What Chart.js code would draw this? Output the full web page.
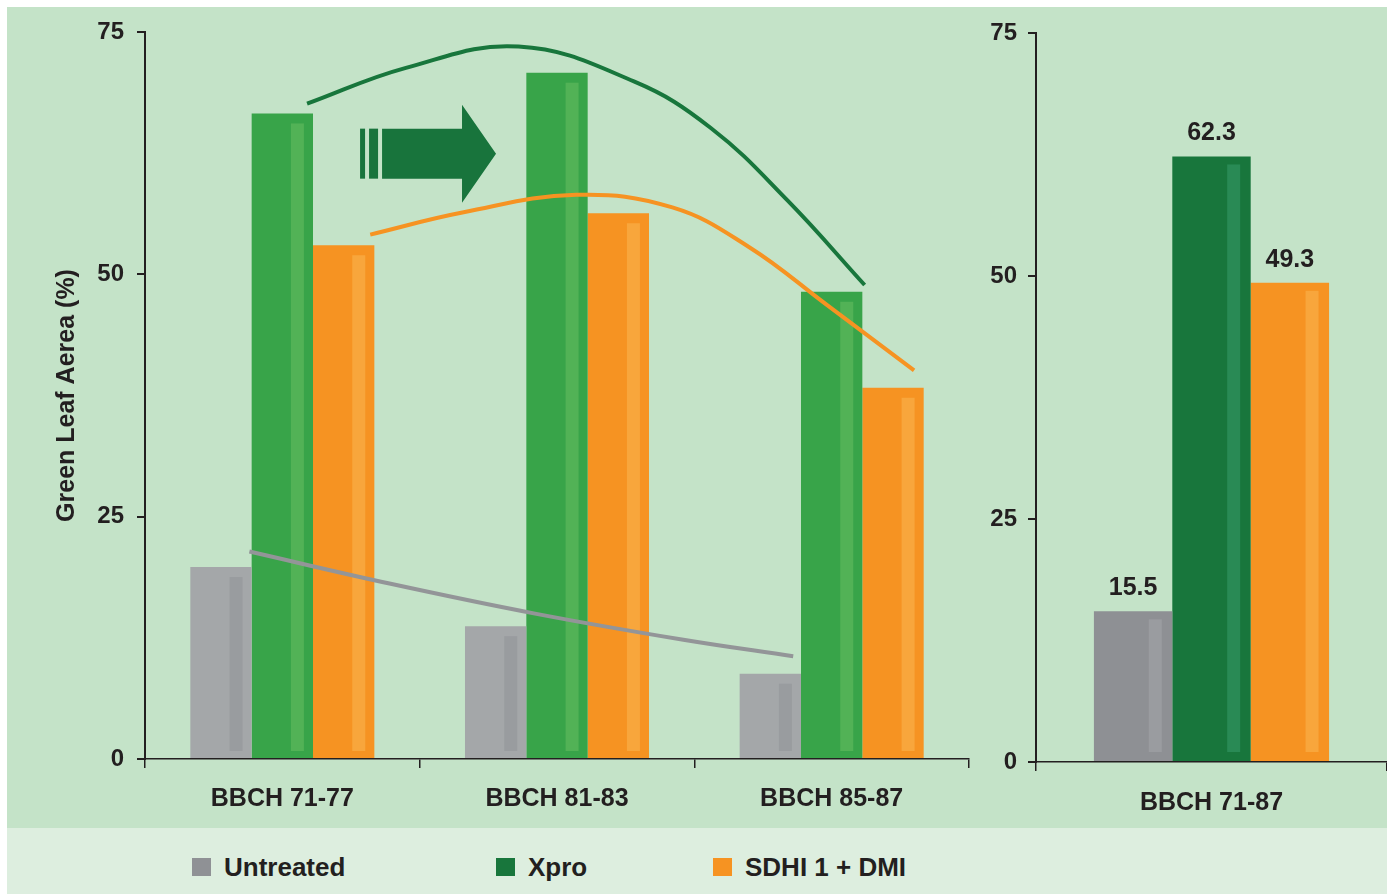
<!DOCTYPE html>
<html>
<head>
<meta charset="utf-8">
<script src="https://cdn.jsdelivr.net/npm/chart.js@4/dist/chart.umd.min.js"></script>
<style>
  html, body { margin: 0; padding: 0; background: #fff; overflow: hidden; }
  body { width: 1387px; height: 894px; position: relative; font-family: "Liberation Sans", Arial, sans-serif; }
  #panel { position: absolute; left: 7px; top: 7px; width: 1380px; height: 821px; background: #c4e3c8; }
  #legendBand { position: absolute; left: 7px; top: 828px; width: 1380px; height: 66px; background: #ddeedf; }
  #leftChart, #trendChart { position: absolute; left: 0; top: 0; }
  #rightChart { position: absolute; left: 975px; top: 0; }
  .lg-item { position: absolute; top: 852px; height: 30px; display: flex; align-items: center; font-weight: bold; font-size: 26px; color: #231f20; }
  .lg-box { width: 19px; height: 18px; margin-right: 13px; }
</style>
</head>
<body>
<div id="panel"></div>
<div id="legendBand"></div>
<canvas id="leftChart" width="975" height="828"></canvas>
<canvas id="trendChart" width="975" height="828"></canvas>
<canvas id="rightChart" width="412" height="828"></canvas>
<div id="legend"></div>
<script>
// Green leaf area per growth stage
const stages = ['BBCH 71-77', 'BBCH 81-83', 'BBCH 85-87'];
const untreated = [19.8, 13.7, 8.8];
const xpro = [66.6, 70.8, 48.2];
const sdhiDmi = [53.0, 56.3, 38.3];

// Average over the whole period
const overallStage = ['BBCH 71-87'];
const overallUntreated = [15.5];
const overallXpro = [62.3];
const overallSdhiDmi = [49.3];

const yTicks = [0, 25, 50, 75];
const seriesNames = ['Untreated', 'Xpro', 'SDHI 1 + DMI'];

// Trend curves (x runs 0..3 across the three stages)
const xproTrendX = [0.59, 0.95, 1.36, 1.78, 2.06, 2.34, 2.62];
const xproTrendY = [67.6, 71.3, 73.5, 69.9, 65.1, 57.6, 48.9];
const sdhiTrendX = [0.82, 1.16, 1.57, 1.92, 2.2, 2.48, 2.8];
const sdhiTrendY = [54.1, 56.4, 58.2, 56.9, 52.8, 46.9, 40.1];
const untreatedTrendX = [0.38, 0.89, 1.42, 1.96, 2.36];
const untreatedTrendY = [21.4, 18.1, 15.0, 12.3, 10.6];

const ink = '#231f20';
const font = 'Liberation Sans, Arial, sans-serif';
const legendColors = ['#8f9195', '#18763c', '#f69322'];
const legendLeft = [192, 496, 713];

function pts(xs, ys) {
    return xs.map((x, i) => ({ x: x, y: ys[i] }));
}

// lighter/darker vertical stripe inside each bar
const barStripes = {
    id: 'barStripes',
    afterDatasetDraw(chart, args, opts) {
        const ds = chart.data.datasets[args.index];
        if (!ds.stripeColor) return;
        const ctx = chart.ctx;
        ctx.save();
        ctx.fillStyle = ds.stripeColor;
        args.meta.data.forEach(bar => {
            const left = bar.x - bar.width / 2;
            ctx.fillRect(left + bar.width * opts.at, bar.y + opts.top, opts.width, bar.base - bar.y - opts.top - opts.bottom);
        });
        ctx.restore();
    }
};

// the big arrow between the first two stages
const trendArrow = {
    id: 'trendArrow',
    afterDatasetsDraw(chart) {
        const xs = chart.scales.x, ys = chart.scales.y;
        const x0 = xs.getPixelForValue(0.783);
        const tip = xs.getPixelForValue(1.278);
        const cy = ys.getPixelForValue(62.45);
        const ctx = chart.ctx;
        ctx.save();
        ctx.fillStyle = '#18743c';
        ctx.fillRect(x0, cy - 25, 5, 50);
        ctx.fillRect(x0 + 9, cy - 25, 9, 50);
        const headX = tip - 34;
        ctx.beginPath();
        ctx.moveTo(x0 + 22, cy - 25);
        ctx.lineTo(headX, cy - 25);
        ctx.lineTo(headX, cy - 49);
        ctx.lineTo(tip, cy);
        ctx.lineTo(headX, cy + 49);
        ctx.lineTo(headX, cy + 25);
        ctx.lineTo(x0 + 22, cy + 25);
        ctx.closePath();
        ctx.fill();
        ctx.restore();
    }
};

// value labels above the bars
const valueLabels = {
    id: 'valueLabels',
    afterDatasetsDraw(chart) {
        const ctx = chart.ctx;
        ctx.save();
        ctx.font = 'bold 25px ' + font;
        ctx.fillStyle = ink;
        ctx.textAlign = 'center';
        ctx.textBaseline = 'alphabetic';
        chart.data.datasets.forEach((ds, i) => {
            chart.getDatasetMeta(i).data.forEach((bar, j) => {
                ctx.fillText(ds.data[j].toFixed(1), bar.x, bar.y - 16);
            });
        });
        ctx.restore();
    }
};

function yAxis(width, pad, title) {
    return {
        min: 0,
        max: 75,
        afterBuildTicks: s => { s.ticks = yTicks.map(v => ({ value: v })); },
        afterFit: s => { s.width = width; },
        grid: { drawOnChartArea: false, drawTicks: true, tickLength: 8, color: ink, lineWidth: 2 },
        border: { display: true, color: ink, width: 2 },
        ticks: { color: ink, padding: pad, font: { family: font, size: 24, weight: 'bold' } },
        title: title
    };
}

function xAxis(height, pad) {
    return {
        afterFit: s => { s.height = height; },
        grid: { drawOnChartArea: false, drawTicks: true, tickLength: 9, color: ink, lineWidth: 1.5, offset: true },
        border: { display: true, color: ink, width: 1.5 },
        ticks: { color: ink, padding: pad, font: { family: font, size: 25, weight: 'bold' } }
    };
}

function trendLine(xs, ys, color) {
    return {
        data: pts(xs, ys),
        borderColor: color,
        borderWidth: 4,
        pointRadius: 0,
        showLine: true,
        tension: 0.4,
        fill: false
    };
}

new Chart(document.getElementById('leftChart').getContext('2d'), {
    type: 'bar',
    data: {
        labels: stages,
        datasets: [
            { label: seriesNames[0], data: untreated, backgroundColor: '#a4a7a9', stripeColor: '#999c9f' },
            { label: seriesNames[1], data: xpro, backgroundColor: '#38a449', stripeColor: '#52b256' },
            { label: seriesNames[2], data: sdhiDmi, backgroundColor: '#f69322', stripeColor: '#f8a63c' }
        ]
    },
    options: {
        responsive: false,
        animation: false,
        events: [],
        layout: { padding: { top: 32, right: 6, left: 0, bottom: 0 } },
        datasets: { bar: { categoryPercentage: 0.67, barPercentage: 1.0, borderWidth: 0 } },
        scales: {
            x: xAxis(69, 16),
            y: yAxis(145, 13, {
                display: true,
                text: 'Green Leaf Aerea (%)',
                color: ink,
                font: { family: font, size: 25, weight: 'bold' },
                padding: { top: 52, bottom: 0 }
            })
        },
        plugins: {
            legend: { display: false },
            tooltip: { enabled: false },
            barStripes: { at: 0.64, width: 13, top: 10, bottom: 7 }
        }
    },
    plugins: [barStripes]
});

// trend curves and arrow, on a transparent layer with the same plot area
new Chart(document.getElementById('trendChart').getContext('2d'), {
    type: 'scatter',
    data: {
        datasets: [
            trendLine(xproTrendX, xproTrendY, '#18763c'),
            trendLine(sdhiTrendX, sdhiTrendY, '#f69322'),
            trendLine(untreatedTrendX, untreatedTrendY, '#939598')
        ]
    },
    options: {
        responsive: false,
        animation: false,
        events: [],
        layout: { padding: { top: 32, right: 6, left: 145, bottom: 69 } },
        scales: {
            x: { type: 'linear', min: 0, max: 3, display: false },
            y: { min: 0, max: 75, display: false }
        },
        plugins: {
            legend: { display: false },
            tooltip: { enabled: false }
        }
    },
    plugins: [trendArrow]
});

new Chart(document.getElementById('rightChart').getContext('2d'), {
    type: 'bar',
    data: {
        labels: overallStage,
        datasets: [
            { label: seriesNames[0], data: overallUntreated, backgroundColor: '#8e9094', stripeColor: '#9a9ca0' },
            { label: seriesNames[1], data: overallXpro, backgroundColor: '#18763c', stripeColor: '#298a55' },
            { label: seriesNames[2], data: overallSdhiDmi, backgroundColor: '#f69322', stripeColor: '#f8a63c' }
        ]
    },
    options: {
        responsive: false,
        animation: false,
        events: [],
        layout: { padding: { top: 33, right: 0, left: 0, bottom: 0 } },
        datasets: { bar: { categoryPercentage: 0.67, barPercentage: 1.0, borderWidth: 0 } },
        scales: {
            x: xAxis(66, 17),
            y: yAxis(61, 11, { display: false })
        },
        plugins: {
            legend: { display: false },
            tooltip: { enabled: false },
            barStripes: { at: 0.7, width: 13, top: 8, bottom: 9 }
        }
    },
    plugins: [barStripes, valueLabels]
});

// legend row in the pale band
const legendEl = document.getElementById('legend');
seriesNames.forEach((name, i) => {
    const item = document.createElement('div');
    item.className = 'lg-item';
    item.style.left = legendLeft[i] + 'px';
    const box = document.createElement('span');
    box.className = 'lg-box';
    box.style.background = legendColors[i];
    item.appendChild(box);
    item.appendChild(document.createTextNode(name));
    legendEl.appendChild(item);
});
</script>
</body>
</html>
